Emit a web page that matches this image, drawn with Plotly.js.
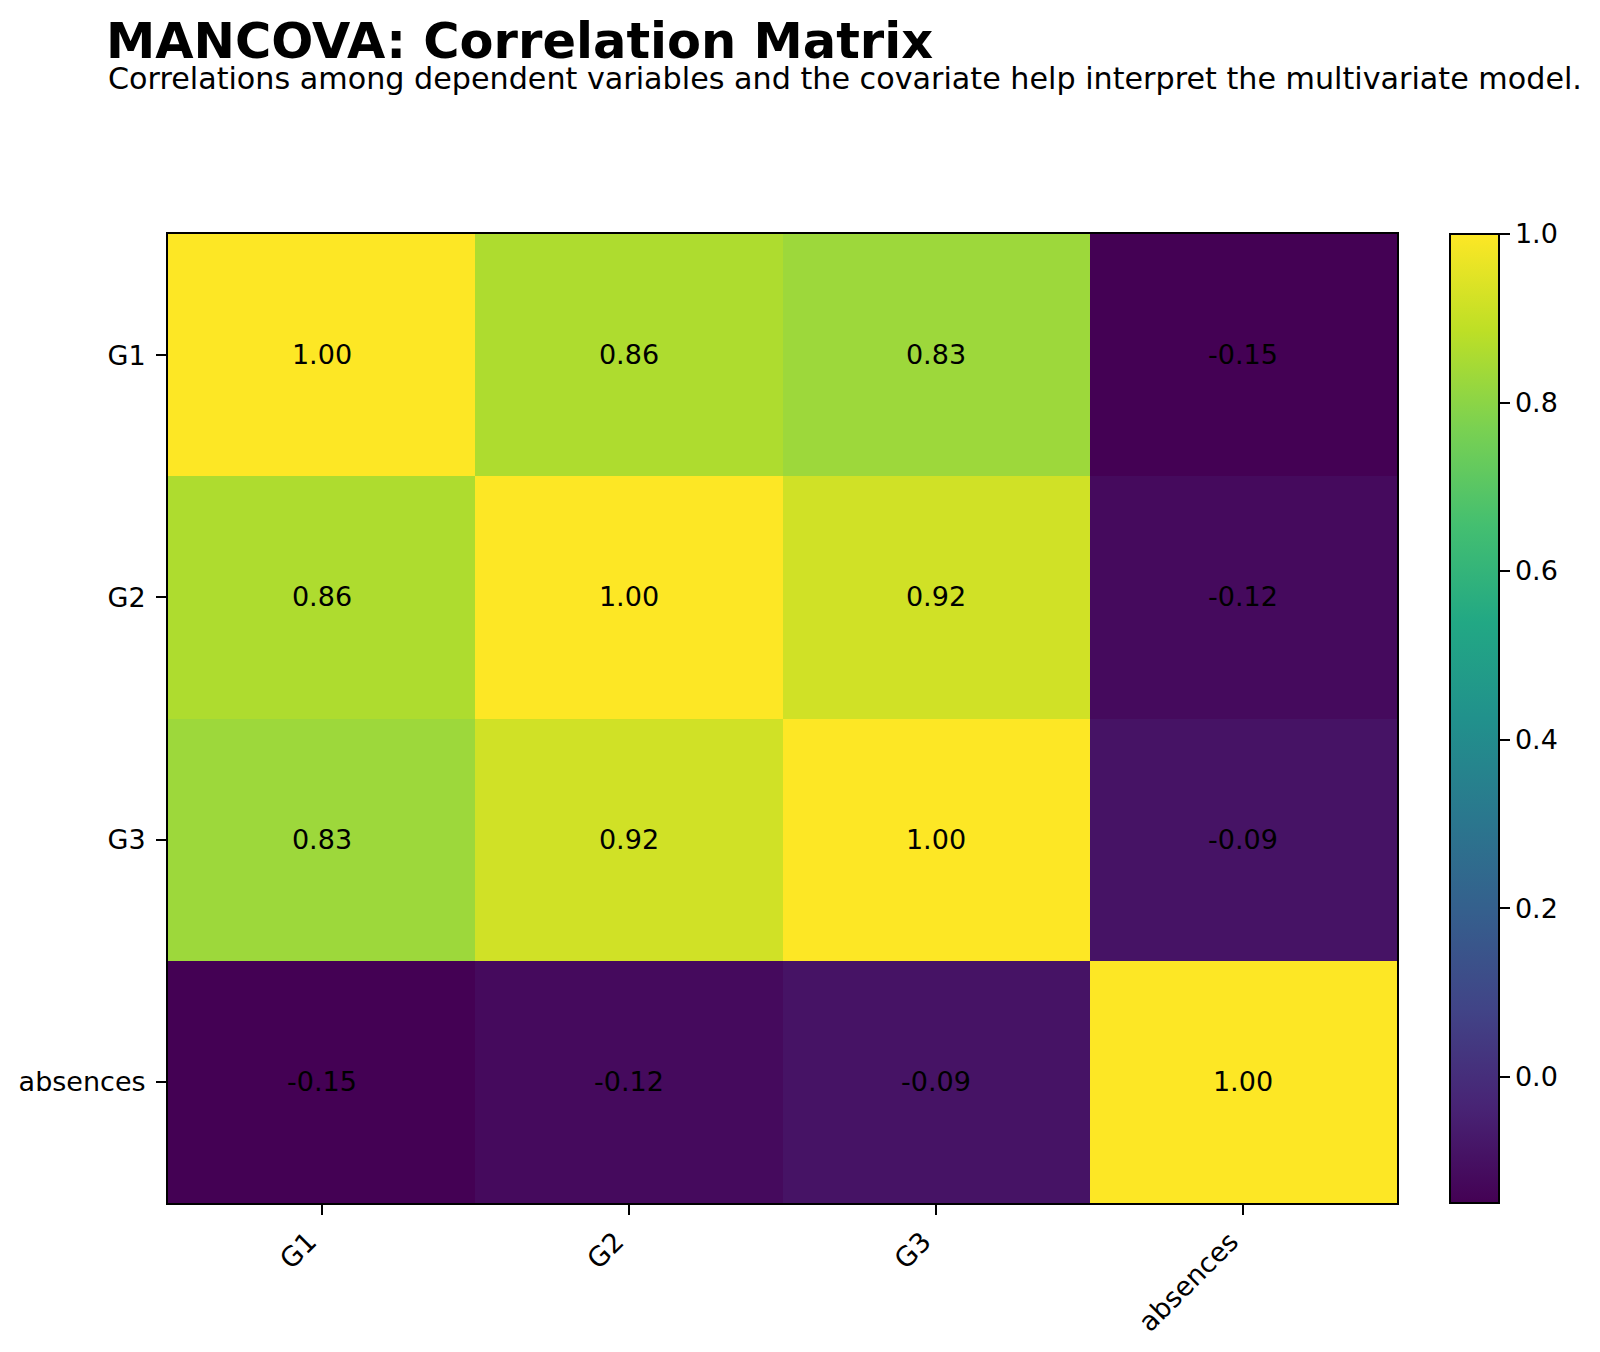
<!DOCTYPE html>
<html>
<head>
<meta charset="utf-8">
<script src="https://cdn.plot.ly/plotly-3.0.1.min.js"></script>
<style>html,body{margin:0;padding:0;background:#fff;}#chart{width:1600px;height:1352px;}</style>
</head>
<body>
<div id="chart"></div>
<script>
const variables = ["G1", "G2", "G3", "absences"];
const correlations = [
  [1.00, 0.86, 0.83, -0.15],
  [0.86, 1.00, 0.92, -0.12],
  [0.83, 0.92, 1.00, -0.09],
  [-0.15, -0.12, -0.09, 1.00]
];
const colorbarTicks = [0.0, 0.2, 0.4, 0.6, 0.8, 1.0];
const titleText = "MANCOVA: Correlation Matrix";
const subtitleText = "Correlations among dependent variables and the covariate help interpret the multivariate model.";

const viridis = [
  [0.0, "#440154"], [0.1, "#482475"], [0.2, "#414487"], [0.3, "#355f8d"],
  [0.4, "#2a788e"], [0.5, "#21918c"], [0.6, "#22a884"], [0.7, "#44bf70"],
  [0.8, "#7ad151"], [0.9, "#bddf26"], [1.0, "#fde725"]
];

const allVals = correlations.flat();
const zmin = Math.min(...allVals);
const zmax = Math.max(...allVals);

const FONT = "DejaVu Sans, Verdana, sans-serif";
const L = 168, R = 203, T = 234, B = 149;
const W = 1600, H = 1352;
const plotW = W - L - R, plotH = H - T - B;

const trace = {
  type: "heatmap",
  x: variables,
  y: variables,
  z: correlations,
  zmin: zmin,
  zmax: zmax,
  colorscale: viridis,
  texttemplate: "%{z:.2f}",
  textfont: {family: FONT, size: 27, color: "#000"},
  hoverinfo: "x+y+z",
  colorbar: {
    x: (1450 - L) / plotW,
    xanchor: "left",
    xpad: 0,
    ypad: 0,
    y: 0.5,
    yanchor: "middle",
    len: plotH,
    lenmode: "pixels",
    thickness: 49,
    thicknessmode: "pixels",
    outlinewidth: 2,
    outlinecolor: "#000",
    ticks: "outside",
    ticklen: 10,
    tickwidth: 2,
    tickcolor: "#000",
    tickvals: colorbarTicks,
    tickformat: ".1f",
    tickprefix: "\u2009",
    tickfont: {family: FONT, size: 27, color: "#000"}
  }
};

const layout = {
  width: W,
  height: H,
  margin: {l: L, r: R, t: T, b: B, pad: 0},
  paper_bgcolor: "#fff",
  plot_bgcolor: "#fff",
  font: {family: FONT, color: "#000"},
  title: {
    text: "<b>" + titleText + "</b>",
    font: {family: FONT, size: 49.5, color: "#000"},
    xref: "container",
    yref: "container",
    x: 106 / W,
    xanchor: "left",
    y: 1 - 23 / H,
    yanchor: "top",
    pad: {t: 0, b: 0, l: 0, r: 0}
  },
  annotations: [{
    text: subtitleText,
    xref: "paper",
    yref: "paper",
    x: (106 - L) / plotW,
    xanchor: "left",
    y: 1 + (T - 98) / plotH,
    yanchor: "bottom",
    showarrow: false,
    font: {family: FONT, size: 30.2, color: "#000"}
  }],
  xaxis: {
    type: "category",
    tickangle: -45,
    ticks: "outside",
    ticklen: 10,
    tickwidth: 2,
    tickcolor: "#000",
    ticklabelshift: -13,
    tickfont: {family: FONT, size: 27, color: "#000"},
    showline: true,
    linecolor: "#000",
    linewidth: 2,
    mirror: true,
    showgrid: false,
    zeroline: false
  },
  yaxis: {
    type: "category",
    autorange: "reversed",
    ticks: "outside",
    ticklen: 10,
    tickwidth: 2,
    tickcolor: "#000",
    ticklabelstandoff: 5,
    tickfont: {family: FONT, size: 27, color: "#000"},
    showline: true,
    linecolor: "#000",
    linewidth: 2,
    mirror: true,
    showgrid: false,
    zeroline: false
  }
};

Plotly.newPlot("chart", [trace], layout, {displayModeBar: false, responsive: false});
</script>
</body>
</html>
